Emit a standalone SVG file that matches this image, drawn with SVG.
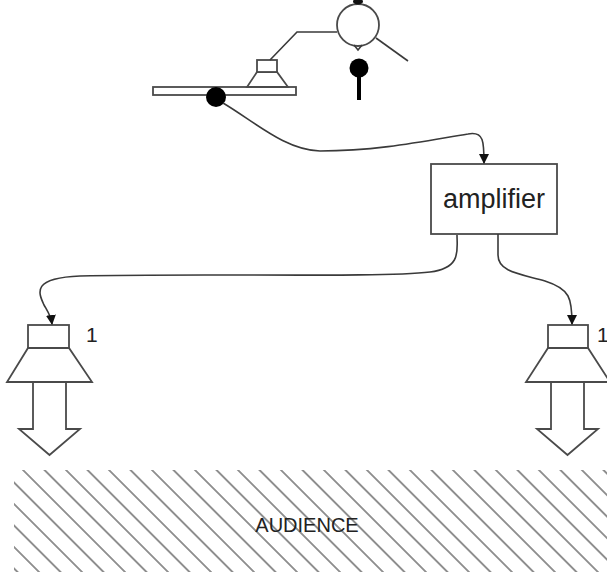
<svg xmlns="http://www.w3.org/2000/svg" width="607" height="572" viewBox="0 0 607 572">
  <style>
    .ln { fill: none; stroke: #3a3a3a; stroke-width: 1.6; stroke-linejoin: miter; }
    .sh { fill: #fff; stroke: #4a4a4a; stroke-width: 1.8; }
    .wire { fill: none; stroke: #3a3a3a; stroke-width: 1.6; }
    .lbl { font-family: "Liberation Sans", Arial, sans-serif; fill: #222; }
  </style>
  <defs>
    <marker id="arrow" viewBox="0 0 10 10" refX="9" refY="5" markerWidth="10" markerHeight="10" markerUnits="userSpaceOnUse" orient="auto">
      <path d="M0,0 L10,5 L0,10 Z" fill="#111"/>
    </marker>
    <pattern id="hatch" patternUnits="userSpaceOnUse" width="15.2" height="15.2" patternTransform="translate(23,470) rotate(45)">
      <rect x="0" y="-0.7" width="15.2" height="1.4" fill="#666"/>
      <rect x="0" y="14.5" width="15.2" height="1.4" fill="#666"/>
    </pattern>
  </defs>

  <!-- turntable with tonearm and pickup -->
  <g id="turntable">
    <rect class="sh" x="153" y="87" width="143" height="8"/>
    <path class="sh" d="M257,72 L277,72 L288,87 L247,87 Z"/>
    <rect class="sh" x="257" y="60" width="20" height="12"/>
    <path class="ln" d="M270,60 L297,32 L337,32"/>
    <circle cx="216" cy="97" r="10" fill="#000"/>
  </g>

  <!-- microphone -->
  <g id="microphone">
    <circle class="sh" cx="358" cy="25" r="21"/>
    <ellipse cx="358" cy="1.5" rx="5" ry="3" fill="#111"/>
    <path class="ln" d="M354,45 L358,50 L362,45"/>
    <path class="ln" d="M376,38 L408,61"/>
    <circle cx="359" cy="68" r="9.5" fill="#000"/>
    <rect x="357" y="68" width="4" height="32" fill="#000"/>
  </g>

  <!-- amplifier -->
  <g id="amplifier">
    <rect class="sh" x="431" y="164" width="126" height="70"/>
    <text class="lbl" x="494" y="208" font-size="27" text-anchor="middle">amplifier</text>
  </g>

  <!-- left speaker -->
  <g id="speaker-left">
    <rect class="sh" x="28" y="325" width="41" height="23"/>
    <path class="sh" d="M28,348 L69,348 L92,382 L7,382 Z"/>
    <path class="sh" d="M33,382 L66,382 L66,429 L80,429 L49.5,455 L19,429 L33,429 Z"/>
    <text class="lbl" x="86" y="342" font-size="21">1</text>
  </g>

  <!-- right speaker -->
  <g id="speaker-right">
    <rect class="sh" x="548" y="325" width="40" height="23"/>
    <path class="sh" d="M548,348 L588,348 L610,382 L526,382 Z"/>
    <path class="sh" d="M551,382 L584,382 L584,429 L598,429 L567.5,455 L537,429 L551,429 Z"/>
    <text class="lbl" x="597" y="342" font-size="21">1</text>
  </g>

  <!-- audience area -->
  <g id="audience">
    <rect x="14" y="470" width="600" height="110" fill="url(#hatch)"/>
    <text class="lbl" x="307" y="532" font-size="20" text-anchor="middle">AUDIENCE</text>
  </g>

  <!-- signal wires -->
  <g id="connectors">
    <path class="wire" marker-end="url(#arrow)" d="M223,103 C255,122 285,150 320,151 C380,151 430,140 468,134 C484,131 484,142 484,163"/>
    <path class="wire" marker-end="url(#arrow)" d="M457,235 C457,250 462,268 430,272 C380,278 200,273 80,276 C32,278 38,292 44,305 C48,312 51,316 52,324"/>
    <path class="wire" marker-end="url(#arrow)" d="M498,234 L498,255 C498,272 520,274 545,281 C570,289 572,298 572,324"/>
  </g>
</svg>
